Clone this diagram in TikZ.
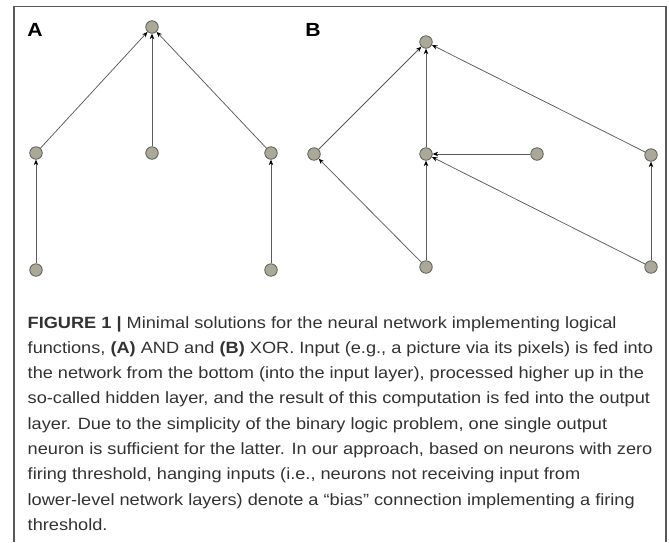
\documentclass[tikz,border=0pt]{standalone}
\usepackage{fontspec}
\setmainfont{Liberation Sans}[FakeStretch=1.115]
\usetikzlibrary{arrows.meta}
\definecolor{neuronfill}{RGB}{170,169,152}
\definecolor{neuronedge}{RGB}{95,95,85}
\definecolor{edgegray}{RGB}{90,90,90}
\definecolor{captext}{RGB}{50,50,50}
\tikzset{
  neuron/.style={circle, draw=neuronedge, fill=neuronfill, line width=0.8pt, minimum size=12.5pt, inner sep=0pt},
  syn/.style={draw=edgegray, line width=0.75pt, -{Stealth[length=5.5pt,width=4.5pt,color=black]}},
  panellabel/.style={font=\fontsize{19}{19}\selectfont\bfseries, text=black},
  capline/.style={anchor=base west, inner sep=0pt, text=captext, font=\fontsize{16.3}{16.3}\selectfont},
  frame/.style={draw=black!65, line width=1.3pt}
}
\begin{document}
\begin{tikzpicture}[x=1pt,y=-1pt]
\useasboundingbox (0,0) rectangle (669,542);
\draw[frame] (14,542) -- (14,6.5) -- (666,6.5) -- (666,542);
% Panel A
\node[panellabel] (labA) at (35,30) {A};
\node[neuron] (aO) at (152,27) {};
\node[neuron] (aH1) at (36,153) {};
\node[neuron] (aH2) at (152,153) {};
\node[neuron] (aH3) at (271,153) {};
\node[neuron] (aI1) at (36,270) {};
\node[neuron] (aI2) at (271,270) {};
\draw[syn] (aH1) -- (aO);
\draw[syn] (aH2) -- (aO);
\draw[syn] (aH3) -- (aO);
\draw[syn] (aI1) -- (aH1);
\draw[syn] (aI2) -- (aH3);
% Panel B
\node[panellabel] (labB) at (313,30) {B};
\node[neuron] (bO) at (426,42) {};
\node[neuron] (bH1) at (314,154) {};
\node[neuron] (bH2) at (426,154) {};
\node[neuron] (bB) at (537,154) {};
\node[neuron] (bH3) at (651,155) {};
\node[neuron] (bI1) at (426,267) {};
\node[neuron] (bI2) at (651,267) {};
\draw[syn] (bH1) -- (bO);
\draw[syn] (bH2) -- (bO);
\draw[syn] (bH3) -- (bO);
\draw[syn] (bB) -- (bH2);
\draw[syn] (bI1) -- (bH1);
\draw[syn] (bI1) -- (bH2);
\draw[syn] (bI2) -- (bH2);
\draw[syn] (bI2) -- (bH3);
% Caption
\node[capline] (c1) at (27.5,328) {\textbf{FIGURE 1 |} Minimal solutions for the neural network implementing logical};
\node[capline] (c2) at (27.5,353.3) {functions, \textbf{(A)} AND and \textbf{(B)} XOR. Input (e.g., a picture via its pixels) is fed into};
\node[capline] (c3) at (27.5,378.6) {the network from the bottom (into the input layer), processed higher up in the};
\node[capline] (c4) at (27.5,403.9) {so-called hidden layer, and the result of this computation is fed into the output};
\node[capline] (c5) at (27.5,429.2) {layer. Due to the simplicity of the binary logic problem, one single output};
\node[capline] (c6) at (27.5,454.5) {neuron is sufficient for the latter. In our approach, based on neurons with zero};
\node[capline] (c7) at (27.5,479.8) {firing threshold, hanging inputs (i.e., neurons not receiving input from};
\node[capline] (c8) at (27.5,505.1) {lower-level network layers) denote a “bias” connection implementing a firing};
\node[capline] (c9) at (27.5,530.4) {threshold.};
\end{tikzpicture}
\end{document}
